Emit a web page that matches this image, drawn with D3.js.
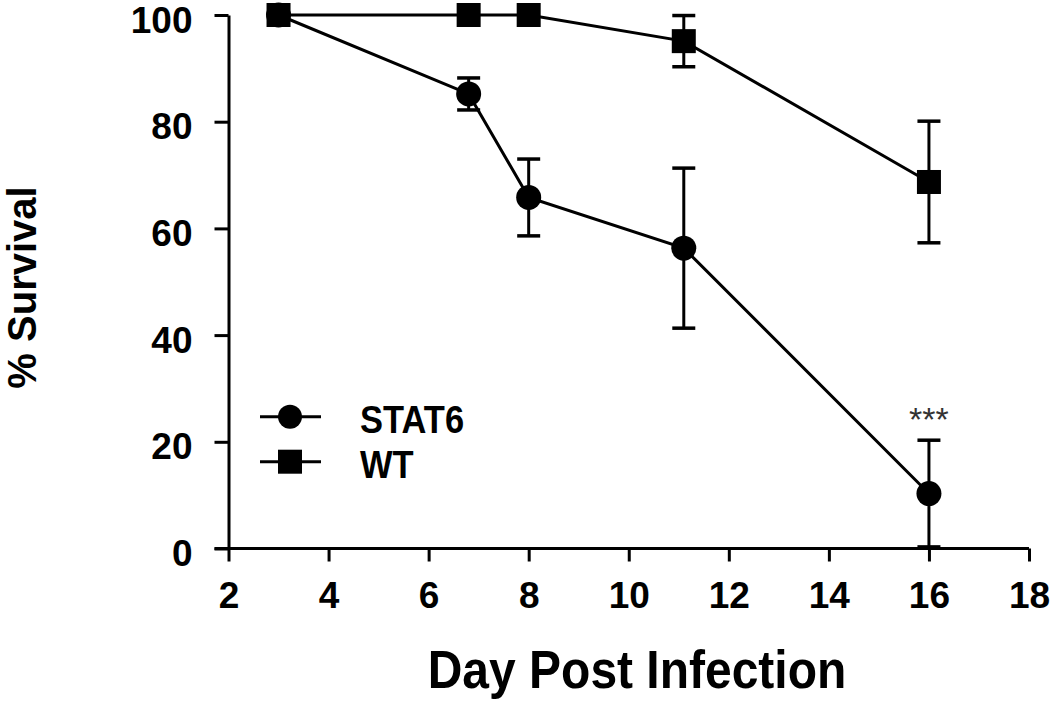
<!DOCTYPE html>
<html>
<head>
<meta charset="utf-8">
<script src="https://cdn.jsdelivr.net/npm/d3@7"></script>
<style>
  html, body { margin: 0; padding: 0; background: #fff; }
  svg { display: block; font-family: "Liberation Sans", Arial, sans-serif; }
</style>
</head>
<body>
<svg id="chart" width="1050" height="701"></svg>
<script>
// ---- data ----
const days = [3, 6.8, 8, 11.1, 16];
const stat6 = [100, 85.2, 65.8, 56.3, 10.3];
const stat6Err = [0, 3.0, 7.2, 15.0, 10.0];
const wt = [100, 100, 100, 95.1, 68.7];
const wtErr = [0, 0, 0, 4.8, 11.4];
const xTicks = [2, 4, 6, 8, 10, 12, 14, 16, 18];
const yTicks = [0, 20, 40, 60, 80, 100];
const seriesNames = ["STAT6", "WT"];
const xTitle = "Day Post Infection";
const yTitle = "% Survival";
const sigLabel = "***";
const sigDay = 16;

const svg = d3.select("#chart");
const x = d3.scaleLinear().domain([2, 18]).range([228.5, 1029]);
const y = d3.scaleLinear().domain([0, 100]).range([548.5, 15]);

// axes
const yAxis = d3.axisLeft(y).tickValues(yTicks).tickSize(14).tickSizeOuter(0).tickPadding(22);
const xAxis = d3.axisBottom(x).tickValues(xTicks).tickSize(13).tickSizeOuter(0).tickPadding(20);

const gy = svg.append("g").attr("transform", `translate(${x(2)},0)`).call(yAxis);
const gx = svg.append("g").attr("transform", `translate(0,${y(0)})`).call(xAxis);
[gx, gy].forEach(g => {
  g.select(".domain").attr("stroke", "#000").attr("stroke-width", 3);
  g.selectAll(".tick line").attr("stroke", "#000").attr("stroke-width", 3);
  g.selectAll(".tick text").attr("fill", "#000").attr("font-size", 37).attr("font-weight", "bold");
});
gy.selectAll(".tick text").attr("dy", "0.46em");
// extend x-axis domain left to y tick end
gx.select(".domain").attr("d", `M${x(2) - 14},0H${x(18)}`);

// axis titles
svg.append("text")
  .attr("transform", `translate(637,688) scale(1,1.1)`)
  .attr("text-anchor", "middle").attr("font-size", 48).attr("font-weight", "bold")
  .text(xTitle);
svg.append("text")
  .attr("transform", `translate(36,287.5) rotate(-90)`)
  .attr("text-anchor", "middle").attr("font-size", 40).attr("font-weight", "bold")
  .text(yTitle);

const line = d3.line().x(d => x(d[0])).y(d => y(d[1]));
const stat6Pts = days.map((d, i) => [d, stat6[i], stat6Err[i]]);
const wtPts = days.map((d, i) => [d, wt[i], wtErr[i]]);
const capW = 23;

function drawSeries(pts, shape) {
  const g = svg.append("g");
  g.append("path").datum(pts).attr("d", line)
    .attr("fill", "none").attr("stroke", "#000").attr("stroke-width", 3);
  const eb = pts.filter(p => p[2] > 0);
  g.selectAll("line.v").data(eb).enter().append("line")
    .attr("x1", d => x(d[0])).attr("x2", d => x(d[0]))
    .attr("y1", d => y(d[1] + d[2])).attr("y2", d => y(d[1] - d[2]))
    .attr("stroke", "#000").attr("stroke-width", 3);
  ["+", "-"].forEach(s => {
    g.selectAll("line.c" + (s === "+" ? "p" : "m")).data(eb).enter().append("line")
      .attr("x1", d => x(d[0]) - capW / 2).attr("x2", d => x(d[0]) + capW / 2)
      .attr("y1", d => y(s === "+" ? d[1] + d[2] : d[1] - d[2]))
      .attr("y2", d => y(s === "+" ? d[1] + d[2] : d[1] - d[2]))
      .attr("stroke", "#000").attr("stroke-width", 3.5);
  });
  if (shape === "circle") {
    g.selectAll("circle").data(pts).enter().append("circle")
      .attr("cx", d => x(d[0])).attr("cy", d => y(d[1])).attr("r", 12.5).attr("fill", "#000");
  } else {
    g.selectAll("rect").data(pts).enter().append("rect")
      .attr("x", d => x(d[0]) - 12).attr("y", d => y(d[1]) - 12)
      .attr("width", 24).attr("height", 24).attr("fill", "#000");
  }
}
drawSeries(stat6Pts, "circle");
drawSeries(wtPts, "square");

// significance marker
svg.append("text")
  .attr("x", x(sigDay)).attr("y", 431)
  .attr("text-anchor", "middle").attr("font-size", 34).attr("fill", "#333")
  .text(sigLabel);

// legend
const leg = svg.append("g");
const legY = [416.7, 461.7];
seriesNames.forEach((name, i) => {
  leg.append("line").attr("x1", 260).attr("x2", 321).attr("y1", legY[i]).attr("y2", legY[i])
    .attr("stroke", "#000").attr("stroke-width", 3);
  if (i === 0) {
    leg.append("circle").attr("cx", 290).attr("cy", legY[i]).attr("r", 12).attr("fill", "#000");
  } else {
    leg.append("rect").attr("x", 278).attr("y", legY[i] - 12).attr("width", 24).attr("height", 24).attr("fill", "#000");
  }
  leg.append("text")
    .attr("transform", `translate(360,${legY[i] + 16.5}) scale(1,1.12)`)
    .attr("font-size", 34.5).attr("font-weight", "bold").text(name);
});
</script>
</body>
</html>
